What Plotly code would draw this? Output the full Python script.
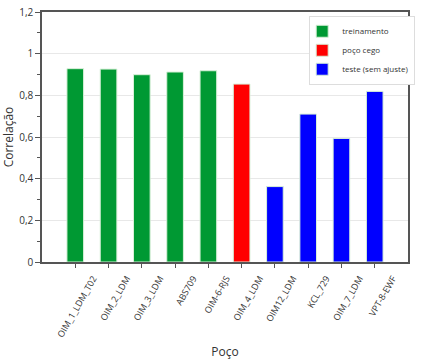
import plotly.graph_objects as go

wells = ["OIM_1_LDM_T02", "OIM_2_LDM", "OIM_3_LDM", "ABS709", "OIM-6-RJS",
         "OIM_4_LDM", "OIM12_LDM", "KCL_729", "OIM_7_LDM", "VPT-8-EWF"]
train_wells = wells[0:5]
train_vals = [0.928, 0.926, 0.899, 0.912, 0.918]
blind_wells = wells[5:6]
blind_vals = [0.854]
test_wells = wells[6:10]
test_vals = [0.362, 0.710, 0.593, 0.819]

font = "Open Sans, Noto Sans, sans-serif"
fig = go.Figure()
for name, xs, ys, col in [("treinamento", train_wells, train_vals, "#009933"),
                          ("poço cego", blind_wells, blind_vals, "#FF0000"),
                          ("teste (sem ajuste)", test_wells, test_vals, "#0000FF")]:
    fig.add_trace(go.Bar(x=xs, y=ys, name=name, width=0.5,
                         marker=dict(color=col, line=dict(color="#d8f0d8", width=1))))

fig.update_layout(
    width=427, height=364,
    margin=dict(l=42, r=12, t=12, b=102),
    paper_bgcolor="white", plot_bgcolor="white",
    barmode="overlay",
    separators=",.",
    font=dict(family=font, size=10, color="#333333"),
    legend=dict(x=0.73, y=0.985, xanchor="left", yanchor="top",
                bordercolor="#dddddd", borderwidth=1, bgcolor="white",
                font=dict(size=8), itemwidth=30, tracegroupgap=0,
                indentation=-8),
    xaxis=dict(type="category", categoryorder="array", categoryarray=wells,
               range=[-1, 10], tickangle=-60, ticks="outside", ticklen=4,
               tickcolor="#555555", showline=True, linecolor="#555555",
               linewidth=1.5, mirror=True, showgrid=False, automargin=False,
               ticklabelshift=18, ticklabelstandoff=2,
               title=dict(text="Poço", font=dict(size=12), standoff=9),
               tickfont=dict(size=9)),
    yaxis=dict(range=[0, 1.2], dtick=0.2, ticks="outside", ticklen=5,
               tickcolor="#555555", showline=True, linecolor="#555555",
               linewidth=1.5, mirror=True, showgrid=True, gridcolor="#e8e8e8",
               zeroline=False, automargin=False,
               minor=dict(dtick=0.1, ticks="outside", ticklen=3, tickcolor="#555555"),
               title=dict(text="Correlação", font=dict(size=12), standoff=4),
               tickfont=dict(size=10)),
)
fig.write_html("out.html", config={"displayModeBar": False},
               post_script="document.body.style.margin='0';")
